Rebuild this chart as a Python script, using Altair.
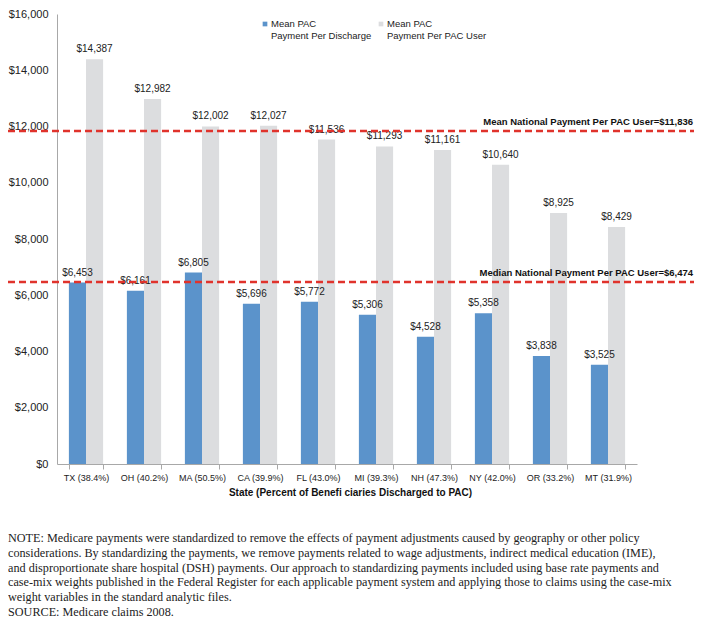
import altair as alt
import pandas as pd

# ---- data ----
states = ["TX (38.4%)", "OH (40.2%)", "MA (50.5%)", "CA (39.9%)", "FL (43.0%)",
          "MI (39.3%)", "NH (47.3%)", "NY (42.0%)", "OR (33.2%)", "MT (31.9%)"]
per_discharge = [6453, 6161, 6805, 5696, 5772, 5306, 4528, 5358, 3838, 3525]
per_user = [14387, 12982, 12002, 12027, 11536, 11293, 11161, 10640, 8925, 8429]
series = ["Mean PAC Payment Per Discharge", "Mean PAC Payment Per PAC User"]
legend_lines = [["Mean PAC", "Payment Per Discharge"], ["Mean PAC", "Payment Per PAC User"]]
ref_values = [11836, 6474]
ref_labels = ["Mean National Payment Per PAC User=$11,836",
              "Median National Payment Per PAC User=$6,474"]
y_ticks = [0, 2000, 4000, 6000, 8000, 10000, 12000, 14000, 16000]
x_title = "State (Percent of Benefi  ciaries Discharged to PAC)"
note_lines = [
    "NOTE: Medicare payments were standardized to remove the effects of payment adjustments caused by geography or other policy",
    "considerations. By standardizing the payments, we remove payments related to wage adjustments, indirect medical education (IME),",
    "and disproportionate share hospital (DSH) payments. Our approach to standardizing payments included using base rate payments and",
    "case-mix weights published in the Federal Register for each applicable payment system and applying those to claims using the case-mix",
    "weight variables in the standard analytic files.",
    "SOURCE: Medicare claims 2008.",
]

BLUE = "#5b93cb"
GREY = "#dcdddf"
RED = "#e0332c"
AXIS = "#a8a8a8"
SANS = "Liberation Sans"
SERIF = "Liberation Serif"

W = 637
H = 450

rows = []
for i, s in enumerate(states):
    rows.append({"state": s, "series": series[0], "value": per_discharge[i]})
    rows.append({"state": s, "series": series[1], "value": per_user[i]})
df = pd.DataFrame(rows)
ref_df = pd.DataFrame({"value": ref_values, "label": ref_labels})

x_enc = alt.X("state:N", sort=states,
              scale=alt.Scale(range=[0, 580], paddingInner=0.41, paddingOuter=0.205),
              axis=alt.Axis(title=x_title, labelAngle=0, tickBand="extent",
                            domainColor=AXIS, tickColor=AXIS, tickSize=5,
                            labelFont=SANS, labelFontSize=9, labelColor="#222",
                            labelPadding=4, titleFont=SANS, titleFontSize=10,
                            titleFontWeight="bold", titleColor="#111", titlePadding=5,
                            titleX=293))
xo_enc = alt.XOffset("series:N", sort=series,
                     scale=alt.Scale(paddingInner=0, paddingOuter=0))
y_enc = alt.Y("value:Q", scale=alt.Scale(domain=[0, 16000]),
              axis=alt.Axis(title=None, values=y_ticks, format="$,.0f", grid=False,
                            ticks=False, domainColor=AXIS, labelFont=SANS,
                            labelFontSize=11, labelColor="#222", labelPadding=9))
color_enc = alt.Color("series:N", sort=series,
                      scale=alt.Scale(domain=series, range=[BLUE, GREY]), legend=None)

base = alt.Chart(df).encode(x=x_enc, xOffset=xo_enc, y=y_enc)
bars = base.mark_bar().encode(color=color_enc)
labels = base.mark_text(baseline="bottom", dy=-5, font=SANS, fontSize=10,
                        color="#222").encode(text=alt.Text("value:Q", format="$,.0f"))

rules = alt.Chart(ref_df).mark_rule(color=RED, strokeWidth=2.5, strokeDash=[7, 4]).encode(
    y=alt.Y("value:Q"), x=alt.value(-49), x2=alt.value(W))
rule_text = alt.Chart(ref_df).mark_text(align="right", baseline="bottom", dy=-4,
                                        font=SANS, fontSize=9.5, fontWeight="bold",
                                        color="#111").encode(
    y=alt.Y("value:Q"), x=alt.value(W - 1), text="label:N")

one = pd.DataFrame({"k": [0]})
legend_layers = []
for i, (lx, col) in enumerate([(208, BLUE), (324, GREY)]):
    legend_layers.append(alt.Chart(one).mark_square(size=22, opacity=1, color=col).encode(
        x=alt.value(lx), y=alt.value(10)))
    legend_layers.append(alt.Chart(one).mark_text(align="left", baseline="middle",
                                                  font=SANS, fontSize=9.5, color="#222",
                                                  lineHeight=11.5).encode(
        x=alt.value(lx + 6), y=alt.value(10), text=alt.value(legend_lines[i])))

note = alt.Chart(one).mark_text(align="left", baseline="top", font=SERIF, fontSize=12.2,
                                lineHeight=14.8, color="#222").encode(
    x=alt.value(-49), y=alt.value(518), text=alt.value(note_lines))

chart = alt.layer(bars, labels, rules, rule_text, *legend_layers, note).properties(
    width=W, height=H,
    autosize=alt.AutoSizeParams(type="none"),
    padding={"left": 49, "top": 6, "right": 0, "bottom": 158},
).configure_view(stroke=None)

chart.save("out.html", embed_options={"renderer": "svg", "actions": False})
